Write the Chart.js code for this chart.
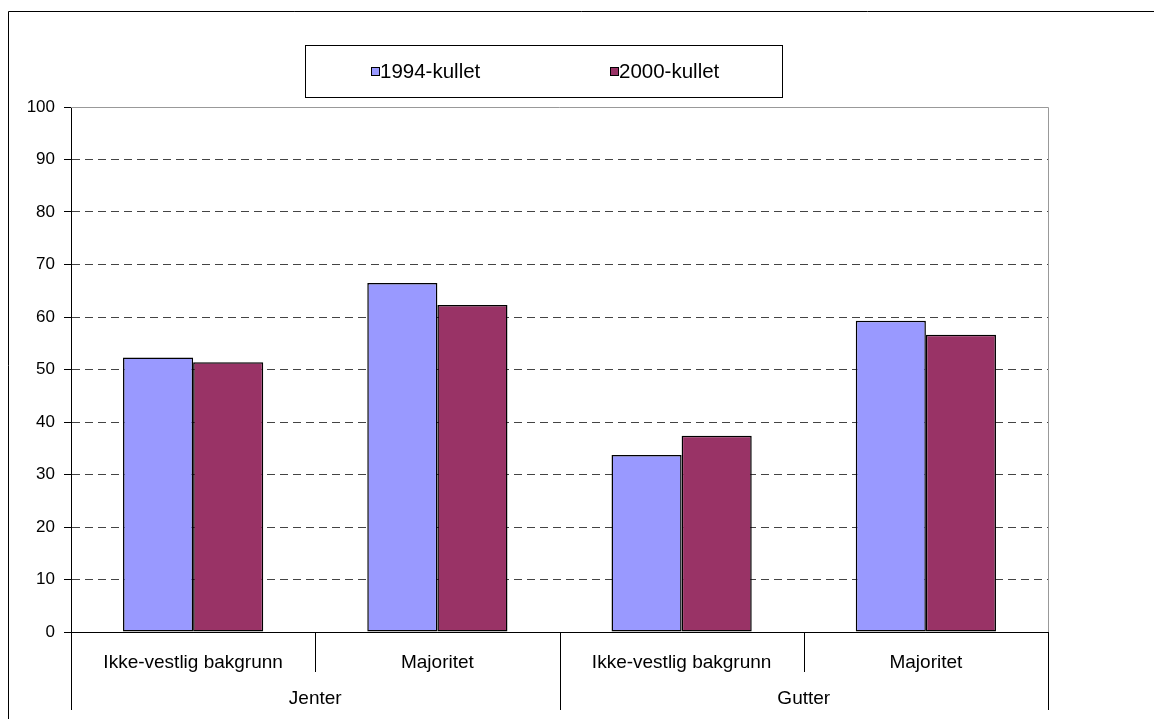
<!DOCTYPE html>
<html>
<head>
<meta charset="utf-8">
<script src="https://cdn.jsdelivr.net/npm/chart.js@4"></script>
<style>
  html, body { margin: 0; padding: 0; background: #fff; }
  canvas { display: block; }
</style>
</head>
<body>
<canvas id="kullChart" width="1154" height="719"></canvas>
<script>
const subCategories = ['Ikke-vestlig bakgrunn', 'Majoritet', 'Ikke-vestlig bakgrunn', 'Majoritet'];
const groups = ['Jenter', 'Gutter'];
const seriesNames = ['1994-kullet', '2000-kullet'];
const values1994 = [52.3, 66.5, 33.7, 59.3];
const values2000 = [51.4, 62.3, 37.4, 56.6];
const yMin = 0, yMax = 100, yStep = 10;

const fontFamily = '"Liberation Sans", Arial, sans-serif';

// draws the frame, the plot border, the two-level category labels and the boxed legend
const decorations = {
    id: 'decorations',
    afterDraw(chart) {
        const ctx = chart.ctx;
        const area = chart.chartArea;
        const x = chart.scales.x;
        ctx.save();

        // outer frame (only top and left visible)
        ctx.strokeStyle = '#000';
        ctx.lineWidth = 1;
        ctx.beginPath();
        ctx.moveTo(8.5, 719);
        ctx.lineTo(8.5, 11.5);
        ctx.lineTo(1154, 11.5);
        ctx.stroke();

        // plot area border top/right
        ctx.strokeStyle = '#999';
        ctx.beginPath();
        ctx.moveTo(area.left, Math.round(area.top) + 0.5);
        ctx.lineTo(Math.round(area.right) + 0.5, Math.round(area.top) + 0.5);
        ctx.lineTo(Math.round(area.right) + 0.5, area.bottom);
        ctx.stroke();

        // category separators
        const half = (x.getPixelForValue(1) - x.getPixelForValue(0)) / 2;
        const perGroup = subCategories.length / groups.length;
        ctx.strokeStyle = '#000';
        for (let i = 0; i <= subCategories.length; i++) {
            const bx = Math.round(x.getPixelForValue(i) - half) + 0.5;
            const isGroupEdge = i % perGroup === 0;
            ctx.beginPath();
            ctx.moveTo(bx, area.bottom);
            ctx.lineTo(bx, isGroupEdge ? 710 : 672);
            ctx.stroke();
        }

        // labels
        ctx.fillStyle = '#000';
        ctx.textAlign = 'center';
        ctx.textBaseline = 'middle';
        ctx.font = '19px ' + fontFamily;
        subCategories.forEach((lab, i) => {
            ctx.fillText(lab, x.getPixelForValue(i), area.bottom + 31);
        });
        groups.forEach((g, gi) => {
            const left = x.getPixelForValue(gi * perGroup) - half;
            const right = x.getPixelForValue((gi + 1) * perGroup - 1) + half;
            ctx.fillText(g, (left + right) / 2, area.bottom + 67);
        });

        // legend box
        ctx.strokeStyle = '#000';
        ctx.strokeRect(305.5, 45.5, 477, 52);
        const itemX = [371, 610];
        chart.data.datasets.forEach((ds, i) => {
            ctx.fillStyle = ds.backgroundColor;
            ctx.fillRect(itemX[i], 67, 8, 8);
            ctx.strokeStyle = '#000';
            ctx.strokeRect(itemX[i] + 0.5, 67.5, 8, 8);
            ctx.fillStyle = '#000';
            ctx.textAlign = 'left';
            ctx.font = '20.5px ' + fontFamily;
            ctx.fillText(ds.label, itemX[i] + 9, 72);
        });
        ctx.restore();
    }
};

const chartContext = document.getElementById('kullChart').getContext('2d');
const kullChart = new Chart(chartContext, {
    type: 'bar',
    data: {
        labels: subCategories,
        datasets: [{
            label: seriesNames[0],
            data: values1994,
            backgroundColor: '#9999FF',
            borderColor: '#000',
            borderWidth: 1.5,
            borderSkipped: false
        }, {
            label: seriesNames[1],
            data: values2000,
            backgroundColor: '#993366',
            borderColor: '#000',
            borderWidth: 1.5,
            borderSkipped: false
        }]
    },
    options: {
        responsive: false,
        animation: false,
        categoryPercentage: 0.574,
        barPercentage: 1.0,
        layout: { padding: { top: 107, right: 106, left: 0, bottom: 0 } },
        plugins: {
            legend: { display: false },
            tooltip: { enabled: false }
        },
        scales: {
            x: {
                ticks: { display: false },
                grid: { display: false },
                border: { display: true, color: '#000', width: 1 },
                afterFit(scale) { scale.height = 87; }
            },
            y: {
                min: yMin,
                max: yMax,
                ticks: {
                    stepSize: yStep,
                    color: '#000',
                    padding: 9,
                    font: { family: fontFamily, size: 17 }
                },
                grid: {
                    color: c => (c.tick && (c.tick.value === yMin || c.tick.value === yMax)) ? 'rgba(0,0,0,0)' : '#444',
                    tickColor: '#000',
                    tickLength: 7
                },
                border: { display: true, color: '#000', width: 1, dash: [8, 5] },
                afterFit(scale) { scale.width = 71; }
            }
        }
    },
    plugins: [decorations]
});
</script>
</body>
</html>
